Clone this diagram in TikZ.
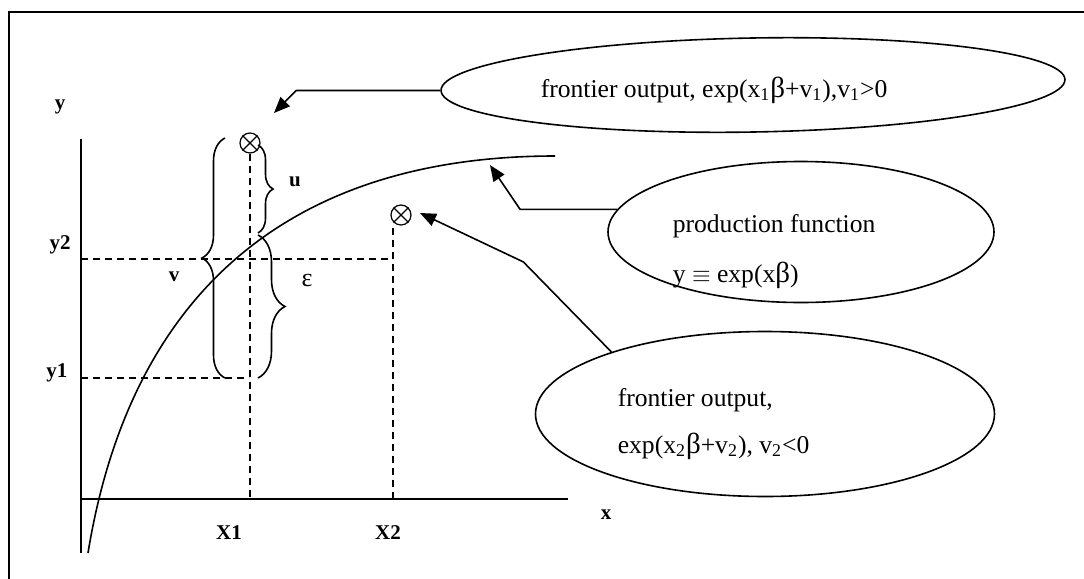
\documentclass[tikz,border=0pt]{standalone}
\usepackage{fontspec}
\setmainfont{Liberation Serif}
\usetikzlibrary{shapes.geometric,decorations.pathreplacing,arrows.meta}

\newcommand{\bigb}{{\fontsize{14.5}{15}\selectfont β}}

\begin{document}
\begin{tikzpicture}[x=0.5pt,y=-0.5pt,line width=0.8pt,
    ell/.style={ellipse, draw, inner sep=0pt},
    lbl/.style={font=\fontsize{10.5}{12}\selectfont\bfseries},
    txt/.style={font=\fontsize{12.8}{15}\selectfont, anchor=base west, inner sep=0pt},
    pt/.style={circle, draw, minimum size=10pt, inner sep=0pt, line width=0.6pt},
    dsh/.style={dash pattern=on 3.5pt off 2.5pt, line width=0.7pt},
    arr/.style={-{Triangle[length=8pt,width=6.5pt]}},
    brc/.style={decorate, decoration={brace, amplitude=#1}}]
                        \useasboundingbox (0,0) rectangle (1084,579);

                        % Frame
                        \draw (8,12) -- (1084,12);
                        \draw (9,12) -- (9,579);

                        % Axes
                        \coordinate (O) at (81,499);
                        \coordinate (ytop) at (81,139);
                        \coordinate (ybot) at (81,553);
                        \coordinate (xend) at (568,499);
                        \coordinate (y2) at (81,259);
                        \coordinate (y1) at (81,378);
                        \coordinate (x2) at (393,499);
                        \draw (ybot) -- (ytop);
                        \draw (O) -- (xend);

                        % Points
                        \node[pt] (p1) at (250,143) {};
                        \node[pt] (p2) at (401,215) {};
                        \draw[line width=0.6pt] (p1.north west) -- (p1.south east) (p1.north east) -- (p1.south west);
                        \draw[line width=0.6pt] (p2.north west) -- (p2.south east) (p2.north east) -- (p2.south west);

                        % Production function
                        \coordinate (c0) at (88,553);
                        \coordinate (c1) at (555,156);
                        \draw (c0) .. controls (133,278) and (305,156) .. (c1);

                        % Dashed lines
                        \draw[dsh] (y2) -- (x2 |- y2);
                        \draw[dsh] (y1) -- (249,378);
                        \draw[dsh] (p1.south) -- (p1.south |- O);
                        \draw[dsh] (x2) -- (x2 |- p2.south);

                        % Labels
                        \node[lbl] (ly) at (60,107) {y};
                        \node[lbl] (ly2) at (60,245) {y2};
                        \node[lbl] (ly1) at (57,373) {y1};
                        \node[lbl] (lx1) at (229,533) {X1};
                        \node[lbl] (lx2) at (388,533) {X2};
                        \node[lbl] (lx) at (606,515) {x};
                        \node[lbl] (lv) at (174,277) {v};
                        \node[lbl] (lu) at (295,182) {u};
                        \node[font=\fontsize{13}{15}\selectfont] (le) at (307,280) {ε};

                        % Braces
                        \draw[brc=11.5pt] (225,378) -- (225,138);
                        \draw[brc=7.5pt] (258,145) -- (258,233);
                        \draw[brc=13.5pt] (258,235) -- (258,378);

                        % Ellipses
                        \node[ell, minimum width=312pt, minimum height=47pt, rotate=1] (e1) at (753,85) {};
                        \node[ell, minimum width=193pt, minimum height=70.5pt] (e2) at (801,232) {};
                        \node[ell, minimum width=229.5pt, minimum height=82.5pt] (e3) at (765,414) {};

                        \node[txt] (t1) at (540,97) {frontier output, exp(x\textsubscript{1}\bigb+v\textsubscript{1}),v\textsubscript{1}>0};
                        \node[txt] (t2a) at (672,232) {production function};
                        \node[txt] (t2b) at (672,282) {y $\equiv$ exp(x\bigb)};
                        \node[txt] (t3a) at (617,406) {frontier output,};
                        \node[txt] (t3b) at (617,453) {exp(x\textsubscript{2}\bigb+v\textsubscript{2}), v\textsubscript{2}<0};

                        % Arrows
                        \coordinate (a1) at (274,113);
                        \coordinate (a2) at (490,165);
                        \coordinate (a3) at (420,213);
                        \draw[arr] (e1.west) -- ++(-144,0) -- (a1);
                        \draw[arr] (e2.173) -- ++(-97,0) -- (a2);
                        \draw[arr] (e3.158) -- ++(-88,-90) -- (a3);
                    \end{tikzpicture}
\end{document}
